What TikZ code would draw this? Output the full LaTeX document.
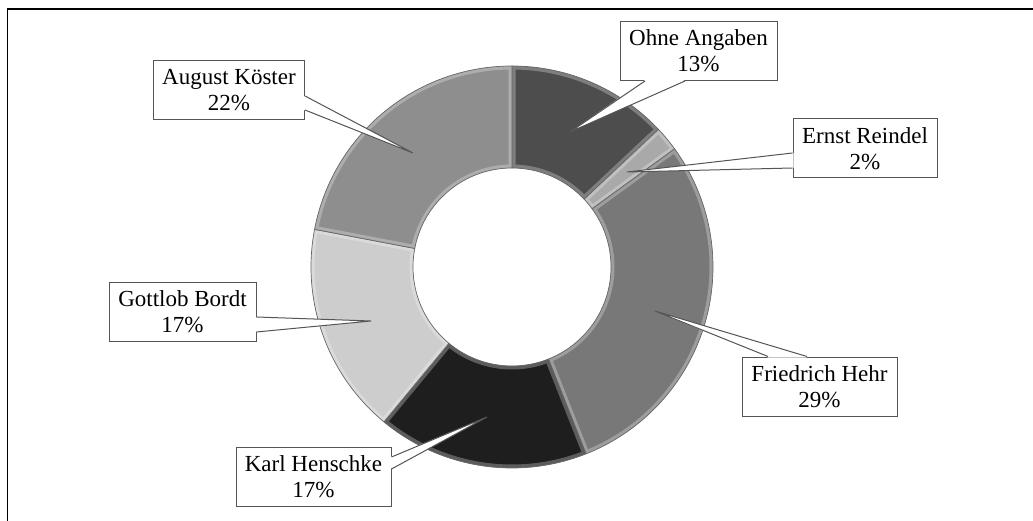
\documentclass[tikz,border=0pt]{standalone}
\usepackage{fontspec}
\setmainfont{Liberation Serif}
\usetikzlibrary{calc}
\definecolor{cOhne}{HTML}{4D4D4D}
\definecolor{cErnst}{HTML}{A9A9A9}
\definecolor{cFried}{HTML}{787878}
\definecolor{cKarl}{HTML}{1E1E1E}
\definecolor{cGott}{HTML}{CDCDCD}
\definecolor{cAug}{HTML}{8E8E8E}
\definecolor{callout}{HTML}{555555}
\begin{document}
\begin{tikzpicture}[x=1pt,y=-1pt,
  lbl/.style={draw=callout,line width=1pt,fill=white,inner sep=0pt,align=center,
    font=\fontsize{23}{26}\selectfont, minimum height=59pt},
  ptr/.style={draw=callout,line width=1pt,line join=miter},
  seg/.style={draw=black!60,line width=0.7pt,line join=round},
  bevel/.style={draw=white,draw opacity=0.28,line width=7pt,line join=round}]
\useasboundingbox (0,0) rectangle (1033,521);
% frame
\draw[line width=1.5pt] (7.5,521) -- (7.5,9) -- (1033,9);
% donut
\begin{scope}[shift={(512,267)},x=1pt,y=1pt]
  \newcommand{\ringpath}[2]{(#1:201pt) arc[start angle=#1,end angle=#2,radius=201pt]
      -- (#2:99pt) arc[start angle=#2,end angle=#1,radius=99pt] -- cycle}
  \newcommand{\ringslice}[3]{%
    \fill[#1] \ringpath{#2}{#3};
    \begin{scope}
      \clip \ringpath{#2}{#3};
      \draw[bevel] \ringpath{#2}{#3};
    \end{scope}
    \draw[seg] \ringpath{#2}{#3};}
  \ringslice{cOhne}{43.2}{90}
  \ringslice{cErnst}{36}{43.2}
  \ringslice{cFried}{-68.4}{36}
  \ringslice{cKarl}{-129.6}{-68.4}
  \ringslice{cGott}{169.2}{230.4}
  \ringslice{cAug}{90}{169.2}
\end{scope}
% labels
\node[lbl,minimum width=157pt] (ohne) at (698.5,51) {Ohne Angaben\\13\%};
\node[lbl,minimum width=144pt] (ernst) at (865,148.5) {Ernst Reindel\\2\%};
\node[lbl,minimum width=155pt] (fried) at (819.5,386.5) {Friedrich Hehr\\29\%};
\node[lbl,minimum width=155pt] (karl) at (313.5,476.5) {Karl Henschke\\17\%};
\node[lbl,minimum width=147pt] (gott) at (182.5,312) {Gottlob Bordt\\17\%};
\node[lbl,minimum width=151pt] (aug) at (229,90) {August Köster\\22\%};
% pointer tips
\coordinate (tOhne) at (570,132);
\coordinate (tErnst) at (627,172);
\coordinate (tFried) at (655,311);
\coordinate (tKarl) at (487,417);
\coordinate (tGott) at (371,321);
\coordinate (tAug) at (413,153);
% pointers
\fill[white] ([xshift=-53.5pt,yshift=1pt]ohne.south) -- (tOhne) -- ([xshift=-13.5pt,yshift=1pt]ohne.south) -- cycle;
\draw[ptr] ([xshift=-53.5pt]ohne.south) -- (tOhne) -- ([xshift=-13.5pt]ohne.south);
\fill[white] ([xshift=1pt,yshift=-4.5pt]ernst.west) -- (tErnst) -- ([xshift=1pt,yshift=-19.5pt]ernst.west) -- cycle;
\draw[ptr] ([yshift=-4.5pt]ernst.west) -- (tErnst) -- ([yshift=-19.5pt]ernst.west);
\fill[white] ([xshift=-51.5pt,yshift=-1pt]fried.north) -- (tFried) -- ([xshift=-12.5pt,yshift=-1pt]fried.north) -- cycle;
\draw[ptr] ([xshift=-51.5pt]fried.north) -- (tFried) -- ([xshift=-12.5pt]fried.north);
\fill[white] ([xshift=-1pt,yshift=19.5pt]karl.east) -- (tKarl) -- ([xshift=-1pt,yshift=7.5pt]karl.east) -- cycle;
\draw[ptr] ([yshift=19.5pt]karl.east) -- (tKarl) -- ([yshift=7.5pt]karl.east);
\fill[white] ([xshift=-1pt,yshift=-5pt]gott.east) -- (tGott) -- ([xshift=-1pt,yshift=-20pt]gott.east) -- cycle;
\draw[ptr] ([yshift=-5pt]gott.east) -- (tGott) -- ([yshift=-20pt]gott.east);
\fill[white] ([xshift=-1pt,yshift=-6pt]aug.east) -- (tAug) -- ([xshift=-1pt,yshift=-20pt]aug.east) -- cycle;
\draw[ptr] ([yshift=-6pt]aug.east) -- (tAug) -- ([yshift=-20pt]aug.east);
\end{tikzpicture}
\end{document}
